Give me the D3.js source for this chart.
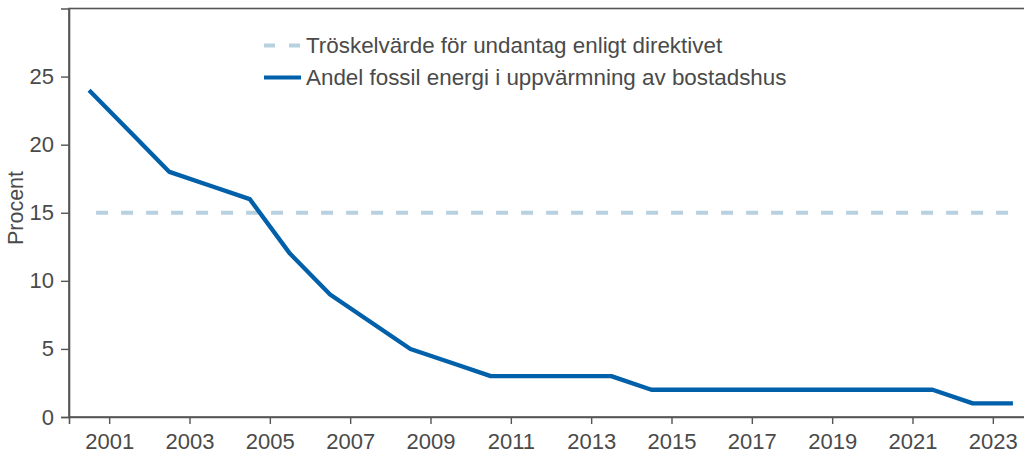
<!DOCTYPE html>
<html>
<head>
<meta charset="utf-8">
<script src="https://cdn.jsdelivr.net/npm/d3@7"></script>
<style>
  body { margin: 0; background: #fff; }
  svg { display: block; font-family: "Liberation Sans", Arial, sans-serif; }
</style>
</head>
<body>
<svg></svg>
<script>
// data
var years = [2000, 2001, 2002, 2003, 2004, 2005, 2006, 2007, 2008, 2009, 2010, 2011,
             2012, 2013, 2014, 2015, 2016, 2017, 2018, 2019, 2020, 2021, 2022, 2023];
var fossilShare = [24, 21, 18, 17, 16, 12, 9, 7, 5, 4, 3, 3,
                   3, 3, 2, 2, 2, 2, 2, 2, 2, 2, 1, 1];
var threshold = 15;
var xTicks = [2001, 2003, 2005, 2007, 2009, 2011, 2013, 2015, 2017, 2019, 2021, 2023];
var yTicks = [0, 5, 10, 15, 20, 25];
var seriesNames = ["Tröskelvärde för undantag enligt direktivet",
                   "Andel fossil energi i uppvärmning av bostadshus"];

var svgWidth = 1024, svgHeight = 453;
var plotLeft = 69, plotTop = 8.5, plotBottom = 417, plotRight = 1033;

var svg = d3.select("svg")
    .attr("width", svgWidth)
    .attr("height", svgHeight);

var xScale = d3.scaleLinear()
    .domain([2000, 2024])
    .range([plotLeft, plotRight]);

var yScale = d3.scaleLinear()
    .domain([0, 30])
    .range([plotBottom, plotTop]);

var axisColor = "#555";
var textColor = "#4a4a4a";

// frame
svg.append("rect")
    .attr("x", plotLeft)
    .attr("y", plotTop)
    .attr("width", plotRight - plotLeft)
    .attr("height", plotBottom - plotTop)
    .attr("fill", "none")
    .attr("stroke", axisColor)
    .attr("stroke-width", 1.6);

// axes
var xAxis = svg.append("g")
    .attr("transform", "translate(0," + plotBottom + ")")
    .call(d3.axisBottom(xScale).tickValues(xTicks).tickFormat(d3.format("d")).tickSize(7).tickPadding(9));

var yAxis = svg.append("g")
    .attr("transform", "translate(" + plotLeft + ",0)")
    .call(d3.axisLeft(yScale).tickValues(yTicks).tickSize(8).tickPadding(7));

[xAxis, yAxis].forEach(function(ax) {
    ax.select(".domain").attr("stroke", axisColor).attr("stroke-width", 1.6);
    ax.selectAll(".tick line").attr("stroke", axisColor).attr("stroke-width", 1.4);
    ax.selectAll(".tick text")
        .attr("fill", textColor)
        .style("font-size", "22px")
        .style("font-family", "'Liberation Sans', Arial, sans-serif");
});

svg.append("text")
    .attr("transform", "translate(23,208) rotate(-90)")
    .attr("text-anchor", "middle")
    .attr("fill", textColor)
    .style("font-size", "21.5px")
    .text("Procent");

var line = d3.line()
    .x(function(d, i) { return xScale(years[i] + 0.5); })
    .y(function(d) { return yScale(d); });

// threshold
svg.append("path")
    .datum(years.map(function() { return threshold; }))
    .attr("d", line)
    .attr("fill", "none")
    .attr("stroke", "#b8d1e0")
    .attr("stroke-width", 4.2)
    .attr("stroke-dasharray", "12,13")
    .attr("stroke-dashoffset", 18);

// main series
svg.append("path")
    .datum(fossilShare)
    .attr("d", line)
    .attr("fill", "none")
    .attr("stroke", "#0060a9")
    .attr("stroke-width", 4.3)
    .attr("stroke-linejoin", "round");

// legend
var legend = svg.append("g");
var legendRows = [
    { name: seriesNames[0], color: "#b8d1e0", dash: "11,14", y: 45.5 },
    { name: seriesNames[1], color: "#0060a9", dash: null, y: 77.5 }
];
legendRows.forEach(function(r) {
    legend.append("line")
        .attr("x1", 264).attr("x2", 301)
        .attr("y1", r.y).attr("y2", r.y)
        .attr("stroke", r.color)
        .attr("stroke-width", 4.2)
        .attr("stroke-dasharray", r.dash);
    legend.append("text")
        .attr("x", 306)
        .attr("y", r.y)
        .attr("dy", "0.35em")
        .attr("fill", textColor)
        .style("font-size", "22.4px")
        .text(r.name);
});
</script>
</body>
</html>
